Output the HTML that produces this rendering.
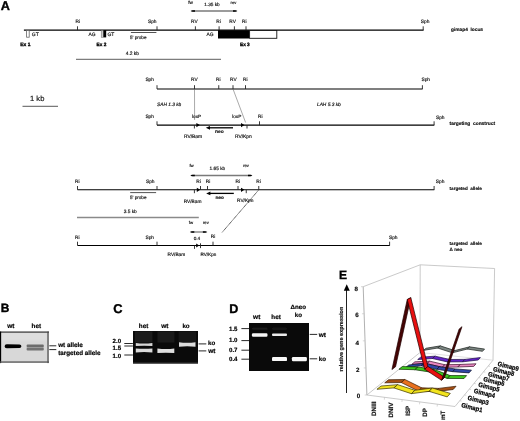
<!DOCTYPE html><html><head><meta charset="utf-8"><style>html,body{margin:0;padding:0;background:#fff;overflow:hidden;}svg{display:block;will-change:transform;text-rendering:geometricPrecision;}</style></head><body>
<svg width="520" height="421" viewBox="0 0 520 421" font-family='"Liberation Sans", sans-serif'>
<rect width="520" height="421" fill="#fff"/>
<g>
<text x="0.8" y="9.9" font-size="12.7" font-weight="bold" fill="#000" stroke="#000" stroke-width="0.35">A</text>
<line x1="23.9" y1="30.1" x2="423.6" y2="30.1" stroke="#000" stroke-width="1.1" />
<line x1="77.5" y1="26.3" x2="77.5" y2="30.1" stroke="#222" stroke-width="0.9" />
<line x1="157" y1="26.3" x2="157" y2="30.1" stroke="#222" stroke-width="0.9" />
<line x1="195.4" y1="26.3" x2="195.4" y2="30.1" stroke="#222" stroke-width="0.9" />
<line x1="219.1" y1="26.3" x2="219.1" y2="30.1" stroke="#222" stroke-width="0.9" />
<line x1="234.4" y1="26.3" x2="234.4" y2="30.1" stroke="#222" stroke-width="0.9" />
<line x1="246.0" y1="26.3" x2="246.0" y2="30.1" stroke="#222" stroke-width="0.9" />
<line x1="423.2" y1="26.3" x2="423.2" y2="30.1" stroke="#222" stroke-width="0.9" />
<text x="75.4" y="22.9" font-size="4.8" fill="#111" stroke="#111" stroke-width="0.16">Ri</text>
<text x="148.0" y="22.9" font-size="4.8" fill="#111" stroke="#111" stroke-width="0.16">Sph</text>
<text x="191.1" y="22.9" font-size="4.8" fill="#111" stroke="#111" stroke-width="0.16">RV</text>
<text x="216.3" y="22.9" font-size="4.8" fill="#111" stroke="#111" stroke-width="0.16">Ri</text>
<text x="229.3" y="22.9" font-size="4.8" fill="#111" stroke="#111" stroke-width="0.16">RV</text>
<text x="242.0" y="22.9" font-size="4.8" fill="#111" stroke="#111" stroke-width="0.16">Ri</text>
<text x="420.8" y="22.5" font-size="4.8" fill="#111" stroke="#111" stroke-width="0.16">Sph</text>
<rect x="26.6" y="30.6" width="2.6" height="6.6" fill="#fff" stroke="#666" stroke-width="0.8" />
<text x="31.8" y="35.9" font-size="5.0" fill="#111" stroke="#111" stroke-width="0.16">GT</text>
<text x="20.3" y="46.0" font-size="4.9" font-weight="bold" fill="#000" stroke="#000" stroke-width="0.3">Ex 1</text>
<text x="88.5" y="36.2" font-size="4.9" fill="#111" stroke="#111" stroke-width="0.16">AG</text>
<rect x="101.2" y="30.4" width="2.2" height="6.9" fill="#ccc" stroke="#666" stroke-width="0.5" />
<rect x="103.4" y="30.2" width="2.8" height="7.2" fill="#000" stroke="none" stroke-width="0" />
<text x="107.4" y="36.2" font-size="5.0" fill="#111" stroke="#111" stroke-width="0.16">GT</text>
<text x="96.6" y="46.0" font-size="4.7" font-weight="bold" fill="#000" stroke="#000" stroke-width="0.3">Ex 2</text>
<line x1="130.9" y1="32.5" x2="156.4" y2="32.5" stroke="#1a1a1a" stroke-width="0.75" />
<text x="130.0" y="39.1" font-size="4.6" fill="#111" stroke="#111" stroke-width="0.16">5' probe</text>
<text x="206.6" y="36.3" font-size="4.9" fill="#111" stroke="#111" stroke-width="0.16">AG</text>
<rect x="218" y="30.2" width="31.6" height="8.3" fill="#000" stroke="none" stroke-width="0" />
<rect x="249.6" y="30.5" width="27.2" height="7.8" fill="#fff" stroke="#111" stroke-width="0.9" />
<text x="240.0" y="46.0" font-size="4.7" font-weight="bold" fill="#000" stroke="#000" stroke-width="0.3">Ex 3</text>
<text x="188.3" y="3.9" font-size="4.6" fill="#111" stroke="#111" stroke-width="0.16">fw</text>
<text x="230.6" y="3.9" font-size="4.2" fill="#111" stroke="#111" stroke-width="0.16">rev</text>
<text x="204.3" y="6.2" font-size="4.7" fill="#111" stroke="#111" stroke-width="0.16">1.35 kb</text>
<line x1="192.6" y1="11.0" x2="235.4" y2="11.0" stroke="#7a7a7a" stroke-width="1.3" />
<path d="M190.6,11.0 L192.0,10.15 L195.0,10.15 L195.0,11.85 L192.0,11.85 Z" fill="#000" stroke="none" stroke-width="0" />
<path d="M237.4,11.0 L236.0,10.15 L233.0,10.15 L233.0,11.85 L236.0,11.85 Z" fill="#000" stroke="none" stroke-width="0" />
<text x="125.7" y="54.9" font-size="4.9" fill="#111" stroke="#111" stroke-width="0.16">4.2 kb</text>
<line x1="76" y1="59.3" x2="221" y2="59.3" stroke="#7d7d7d" stroke-width="1.3" />
<text x="451" y="30.7" font-size="4.8" font-weight="bold" fill="#111" stroke="#111" stroke-width="0.15">gimap4&#160;&#160;locus</text>
<text x="30.0" y="100.9" font-size="7.6" fill="#111" stroke="#111" stroke-width="0.16">1 kb</text>
<line x1="22.5" y1="106.4" x2="58" y2="106.4" stroke="#7a7a7a" stroke-width="1.3" />
<line x1="157" y1="89.0" x2="422.6" y2="89.0" stroke="#000" stroke-width="1.1" />
<line x1="157" y1="85.2" x2="157" y2="89.0" stroke="#222" stroke-width="0.9" />
<line x1="194.5" y1="85.2" x2="194.5" y2="89.0" stroke="#222" stroke-width="0.9" />
<line x1="218.75" y1="85.2" x2="218.75" y2="89.0" stroke="#222" stroke-width="0.9" />
<line x1="233" y1="85.2" x2="233" y2="89.0" stroke="#222" stroke-width="0.9" />
<line x1="245.5" y1="85.2" x2="245.5" y2="89.0" stroke="#222" stroke-width="0.9" />
<line x1="422.4" y1="85.2" x2="422.4" y2="89.0" stroke="#222" stroke-width="0.9" />
<text x="145.4" y="80.8" font-size="4.8" fill="#111" stroke="#111" stroke-width="0.16">Sph</text>
<text x="191.0" y="81.0" font-size="4.8" fill="#111" stroke="#111" stroke-width="0.16">RV</text>
<text x="216.0" y="81.0" font-size="4.8" fill="#111" stroke="#111" stroke-width="0.16">Ri</text>
<text x="230.0" y="81.0" font-size="4.8" fill="#111" stroke="#111" stroke-width="0.16">RV</text>
<text x="243.0" y="81.0" font-size="4.8" fill="#111" stroke="#111" stroke-width="0.16">Ri</text>
<text x="421.5" y="81.0" font-size="4.8" fill="#111" stroke="#111" stroke-width="0.16">Sph</text>
<text x="157.0" y="105.9" font-size="4.8" font-style="italic" fill="#111" stroke="#111" stroke-width="0.16">SAH 1.3 kb</text>
<text x="317.0" y="106.3" font-size="4.8" font-style="italic" fill="#111" stroke="#111" stroke-width="0.16">LAH 5.3 kb</text>
<line x1="194.5" y1="89" x2="194.6" y2="120" stroke="#555" stroke-width="0.5" />
<line x1="233" y1="89" x2="245.6" y2="122.5" stroke="#555" stroke-width="0.5" />
<line x1="157" y1="125.1" x2="434.3" y2="125.1" stroke="#000" stroke-width="1.1" />
<line x1="157" y1="121.3" x2="157" y2="125.1" stroke="#222" stroke-width="0.9" />
<line x1="434.1" y1="121.3" x2="434.1" y2="125.1" stroke="#222" stroke-width="0.9" />
<line x1="259.5" y1="121.3" x2="259.5" y2="125.1" stroke="#222" stroke-width="0.9" />
<line x1="194.4" y1="125.1" x2="194.4" y2="128.5" stroke="#222" stroke-width="0.9" />
<line x1="247" y1="125.1" x2="247" y2="128.5" stroke="#222" stroke-width="0.9" />
<path d="M196.4,123.0 L199.8,125.1 L196.4,127.19999999999999 Z" fill="#000" stroke="none" stroke-width="0" />
<path d="M241.0,123.0 L244.4,125.1 L241.0,127.19999999999999 Z" fill="#000" stroke="none" stroke-width="0" />
<text x="145.4" y="118.0" font-size="4.8" fill="#111" stroke="#111" stroke-width="0.16">Sph</text>
<text x="436.0" y="118.5" font-size="4.8" fill="#111" stroke="#111" stroke-width="0.16">Sph</text>
<text x="192.0" y="118.4" font-size="4.7" fill="#111" stroke="#111" stroke-width="0.16">loxP</text>
<text x="232.2" y="118.4" font-size="4.7" fill="#111" stroke="#111" stroke-width="0.16">loxP</text>
<text x="258.0" y="118.4" font-size="4.8" fill="#111" stroke="#111" stroke-width="0.16">Ri</text>
<line x1="208.8" y1="127.8" x2="233" y2="127.8" stroke="#000" stroke-width="1.3" />
<path d="M205.8,127.8 L210.0,125.89999999999999 L210.0,129.7 Z" fill="#000" stroke="none" stroke-width="0" />
<text x="215.0" y="133.3" font-size="4.9" font-weight="bold" fill="#111" stroke="#111" stroke-width="0.15">neo</text>
<text x="184.0" y="138.0" font-size="4.9" fill="#111" stroke="#111" stroke-width="0.16">RV/Bam</text>
<text x="235.0" y="138.0" font-size="4.9" fill="#111" stroke="#111" stroke-width="0.16">RV/Kpn</text>
<text x="449.6" y="124.6" font-size="4.85" font-weight="bold" fill="#111" stroke="#111" stroke-width="0.15">targeting&#160;&#160;construct</text>
<line x1="77.5" y1="189.8" x2="434.3" y2="189.8" stroke="#000" stroke-width="1.1" />
<line x1="77.5" y1="186.0" x2="77.5" y2="189.8" stroke="#222" stroke-width="0.9" />
<line x1="157" y1="186.0" x2="157" y2="189.8" stroke="#222" stroke-width="0.9" />
<line x1="200.5" y1="186.0" x2="200.5" y2="189.8" stroke="#222" stroke-width="0.9" />
<line x1="207.5" y1="186.0" x2="207.5" y2="189.8" stroke="#222" stroke-width="0.9" />
<line x1="238" y1="186.0" x2="238" y2="189.8" stroke="#222" stroke-width="0.9" />
<line x1="258.75" y1="186.0" x2="258.75" y2="189.8" stroke="#222" stroke-width="0.9" />
<line x1="434.1" y1="186.0" x2="434.1" y2="189.8" stroke="#222" stroke-width="0.9" />
<line x1="194.4" y1="189.8" x2="194.4" y2="193.20000000000002" stroke="#222" stroke-width="0.9" />
<line x1="246.25" y1="189.8" x2="246.25" y2="193.20000000000002" stroke="#222" stroke-width="0.9" />
<path d="M196.8,187.70000000000002 L200.2,189.8 L196.8,191.9 Z" fill="#000" stroke="none" stroke-width="0" />
<path d="M241.0,187.70000000000002 L244.4,189.8 L241.0,191.9 Z" fill="#000" stroke="none" stroke-width="0" />
<text x="75.0" y="182.8" font-size="4.8" fill="#111" stroke="#111" stroke-width="0.16">Ri</text>
<text x="146.0" y="182.8" font-size="4.8" fill="#111" stroke="#111" stroke-width="0.16">Sph</text>
<text x="196.2" y="182.5" font-size="4.8" fill="#111" stroke="#111" stroke-width="0.16">Ri</text>
<text x="205.7" y="182.5" font-size="4.8" fill="#111" stroke="#111" stroke-width="0.16">Ri</text>
<text x="235.5" y="182.5" font-size="4.8" fill="#111" stroke="#111" stroke-width="0.16">Ri</text>
<text x="256.2" y="182.5" font-size="4.8" fill="#111" stroke="#111" stroke-width="0.16">Ri</text>
<text x="435.8" y="183.4" font-size="4.8" fill="#111" stroke="#111" stroke-width="0.16">Sph</text>
<text x="449.6" y="189.7" font-size="4.6" font-weight="bold" fill="#111" stroke="#111" stroke-width="0.15">targeted&#160;&#160;allele</text>
<line x1="130.2" y1="192.6" x2="156.1" y2="192.6" stroke="#1a1a1a" stroke-width="0.75" />
<text x="130.0" y="198.9" font-size="4.6" fill="#111" stroke="#111" stroke-width="0.16">5' probe</text>
<text x="189.4" y="167.0" font-size="4.3" fill="#111" stroke="#111" stroke-width="0.16">fw</text>
<text x="243.2" y="167.0" font-size="4.1" fill="#111" stroke="#111" stroke-width="0.16">rev</text>
<text x="209.5" y="170.2" font-size="4.8" fill="#111" stroke="#111" stroke-width="0.16">1.65 kb</text>
<line x1="192.4" y1="175.5" x2="250.4" y2="175.5" stroke="#7a7a7a" stroke-width="1.3" />
<path d="M190.4,175.5 L191.8,174.65 L194.8,174.65 L194.8,176.35 L191.8,176.35 Z" fill="#000" stroke="none" stroke-width="0" />
<path d="M252.4,175.5 L251.0,174.65 L248.0,174.65 L248.0,176.35 L251.0,176.35 Z" fill="#000" stroke="none" stroke-width="0" />
<line x1="209.2" y1="193.4" x2="233.8" y2="193.4" stroke="#000" stroke-width="1.3" />
<path d="M206.2,193.4 L210.39999999999998,191.5 L210.39999999999998,195.3 Z" fill="#000" stroke="none" stroke-width="0" />
<text x="215.5" y="198.5" font-size="4.7" font-weight="bold" fill="#111" stroke="#111" stroke-width="0.15">neo</text>
<text x="183.7" y="202.7" font-size="4.8" fill="#111" stroke="#111" stroke-width="0.16">RV/Bam</text>
<text x="237.0" y="201.5" font-size="4.8" fill="#111" stroke="#111" stroke-width="0.16">RV/Kpn</text>
<line x1="77" y1="217.5" x2="198.8" y2="217.5" stroke="#8a8a8a" stroke-width="1.4" />
<text x="123.7" y="212.6" font-size="4.8" fill="#111" stroke="#111" stroke-width="0.16">3.5 kb</text>
<line x1="258.2" y1="190.5" x2="222.2" y2="232.3" stroke="#222" stroke-width="0.95" stroke-dasharray="1,0.6"/>
<line x1="77.5" y1="245.5" x2="389.8" y2="245.5" stroke="#000" stroke-width="1.1" />
<line x1="77.5" y1="241.7" x2="77.5" y2="245.5" stroke="#222" stroke-width="0.9" />
<line x1="157" y1="241.7" x2="157" y2="245.5" stroke="#222" stroke-width="0.9" />
<line x1="213" y1="241.7" x2="213" y2="245.5" stroke="#222" stroke-width="0.9" />
<line x1="389.6" y1="241.7" x2="389.6" y2="245.5" stroke="#222" stroke-width="0.9" />
<line x1="194.5" y1="245.5" x2="194.5" y2="248.9" stroke="#222" stroke-width="0.9" />
<line x1="200.5" y1="243.3" x2="200.5" y2="248.1" stroke="#222" stroke-width="0.9" />
<path d="M196.2,243.4 L199.2,245.5 L196.2,247.6 Z" fill="#000" stroke="none" stroke-width="0" />
<text x="75.0" y="238.5" font-size="4.8" fill="#111" stroke="#111" stroke-width="0.16">Ri</text>
<text x="145.5" y="238.6" font-size="4.8" fill="#111" stroke="#111" stroke-width="0.16">Sph</text>
<text x="210.7" y="238.2" font-size="4.8" fill="#111" stroke="#111" stroke-width="0.16">Ri</text>
<text x="389.0" y="238.9" font-size="4.8" fill="#111" stroke="#111" stroke-width="0.16">Sph</text>
<text x="188.7" y="223.9" font-size="4.3" fill="#111" stroke="#111" stroke-width="0.16">fw</text>
<text x="203.0" y="223.9" font-size="4.1" fill="#111" stroke="#111" stroke-width="0.16">rev</text>
<line x1="191.9" y1="232.0" x2="205.3" y2="232.0" stroke="#7a7a7a" stroke-width="1.3" />
<path d="M189.9,232.0 L191.3,231.15 L194.3,231.15 L194.3,232.85 L191.3,232.85 Z" fill="#000" stroke="none" stroke-width="0" />
<path d="M207.3,232.0 L205.9,231.15 L202.9,231.15 L202.9,232.85 L205.9,232.85 Z" fill="#000" stroke="none" stroke-width="0" />
<text x="193.7" y="239.6" font-size="4.7" fill="#111" stroke="#111" stroke-width="0.16">0.4</text>
<text x="167.5" y="256.4" font-size="4.8" fill="#111" stroke="#111" stroke-width="0.16">RV/Bam</text>
<text x="200.5" y="256.4" font-size="4.6" fill="#111" stroke="#111" stroke-width="0.16">RV/Kpn</text>
<text x="449.6" y="245.1" font-size="4.6" font-weight="bold" fill="#111" stroke="#111" stroke-width="0.15">targeted&#160;&#160;allele</text>
<text x="449.6" y="251.3" font-size="4.6" font-weight="bold" fill="#111" stroke="#111" stroke-width="0.15">&#916; neo</text>
<text x="0.8" y="312.3" font-size="11.9" font-weight="bold" fill="#000" stroke="#000" stroke-width="0.4">B</text>
<text x="7.3" y="327.9" font-size="6.51" font-weight="bold" fill="#000" stroke="#000" stroke-width="0.18">wt</text>
<text x="31.6" y="327.9" font-size="6.3" font-weight="bold" fill="#000" stroke="#000" stroke-width="0.18">het</text>
<defs><filter id="bl" x="-20%" y="-50%" width="140%" height="200%"><feGaussianBlur stdDeviation="0.55"/></filter><filter id="bl2" x="-20%" y="-50%" width="140%" height="200%"><feGaussianBlur stdDeviation="0.8"/></filter></defs>
<rect x="0" y="331.6" width="49" height="31" fill="#d8d8d8" stroke="none" stroke-width="0" />
<rect x="1" y="332.6" width="46.5" height="8" fill="#dedede" stroke="none" stroke-width="0" filter="url(#bl2)"/>
<rect x="0" y="331.5" width="49" height="1.2" fill="#3a3a3a" stroke="none" stroke-width="0" />
<rect x="0" y="331.6" width="1.15" height="31.5" fill="#000" stroke="none" stroke-width="0" />
<rect x="47.4" y="331.6" width="1.2" height="31.5" fill="#4a4a4a" stroke="none" stroke-width="0" />
<rect x="0" y="361.4" width="49" height="1.3" fill="#555" stroke="none" stroke-width="0" />
<g filter="url(#bl)">
<path d="M4.6,346.3 Q4.6,344.2 7,344.3 L19.5,344.5 Q21.4,344.6 21.4,346.3 Q21.4,348.0 19.5,348.0 L7,348.2 Q4.6,348.3 4.6,346.3 Z" fill="#050505" stroke="none" stroke-width="0" />
<rect x="26.6" y="344.5" width="17.2" height="2.7" fill="#6c6c6c" stroke="none" stroke-width="0" rx="1"/>
<rect x="26.6" y="347.2" width="17.2" height="0.6" fill="#9a9a9a" stroke="none" stroke-width="0" />
<rect x="26.6" y="347.8" width="17.2" height="2.7" fill="#727272" stroke="none" stroke-width="0" rx="1"/>
</g>
<line x1="49.3" y1="345.8" x2="56.3" y2="345.8" stroke="#111" stroke-width="0.9" />
<line x1="49.3" y1="349.6" x2="56.3" y2="349.6" stroke="#111" stroke-width="0.9" />
<text x="58.2" y="346.6" font-size="6.35" font-weight="bold" fill="#000" stroke="#000" stroke-width="0.18">wt allele</text>
<text x="58.2" y="355.1" font-size="6.3" font-weight="bold" fill="#000" stroke="#000" stroke-width="0.18">targeted allele</text>
<text x="113.3" y="312.6" font-size="12.8" font-weight="bold" fill="#000" stroke="#000" stroke-width="0.35">C</text>
<text x="138.8" y="327.9" font-size="6.3" font-weight="bold" fill="#000" stroke="#000" stroke-width="0.18">het</text>
<text x="161.3" y="327.9" font-size="6.51" font-weight="bold" fill="#000" stroke="#000" stroke-width="0.18">wt</text>
<text x="182.4" y="327.9" font-size="6.2" font-weight="bold" fill="#000" stroke="#000" stroke-width="0.18">ko</text>
<rect x="133" y="331" width="65" height="32.5" fill="#0a0a0a" stroke="none" stroke-width="0" />
<rect x="134.9" y="331.5" width="17.5" height="11" fill="#1c1c1c" stroke="none" stroke-width="0" />
<rect x="157.4" y="331.5" width="17" height="11" fill="#1a1a1a" stroke="none" stroke-width="0" />
<rect x="178.6" y="331.5" width="17.5" height="11" fill="#161616" stroke="none" stroke-width="0" />
<rect x="133" y="362.4" width="65" height="1.1" fill="#333" stroke="none" stroke-width="0" />
<g filter="url(#bl)">
<path d="M135.8,342.9 Q144,343.9 152.4,342.9 L152.4,346.1 Q144,345.5 135.8,346.1 Z" fill="#d6d6d6" stroke="none" stroke-width="0" />
<path d="M135.8,348.4 Q144,349.3 152.4,348.4 L152.4,352.4 Q144,351.7 135.8,352.4 Z" fill="#dadada" stroke="none" stroke-width="0" />
<path d="M157.4,348.4 Q166,349.5 174.3,348.4 L174.3,353.0 Q166,352.3 157.4,353.0 Z" fill="#dedede" stroke="none" stroke-width="0" />
<path d="M179.0,342.2 Q187,343.3 195.5,342.2 L195.5,346.7 Q187,346.0 179.0,346.7 Z" fill="#dcdcdc" stroke="none" stroke-width="0" />
</g>
<text x="112.6" y="343.0" font-size="6.09" font-weight="bold" fill="#000" stroke="#000" stroke-width="0.18">2.0</text>
<text x="112.6" y="350.0" font-size="6.09" font-weight="bold" fill="#000" stroke="#000" stroke-width="0.18">1.5</text>
<text x="112.6" y="357.8" font-size="6.09" font-weight="bold" fill="#000" stroke="#000" stroke-width="0.18">1.0</text>
<line x1="124.3" y1="343.5" x2="132.9" y2="343.5" stroke="#111" stroke-width="0.9" />
<line x1="124.3" y1="346.0" x2="132.9" y2="346.0" stroke="#111" stroke-width="0.9" />
<line x1="124.3" y1="355.0" x2="132.9" y2="355.0" stroke="#111" stroke-width="0.9" />
<line x1="198.6" y1="343.9" x2="206.3" y2="343.9" stroke="#111" stroke-width="0.9" />
<line x1="198.6" y1="350.9" x2="206.3" y2="350.9" stroke="#111" stroke-width="0.9" />
<text x="208.0" y="345.4" font-size="6.2" font-weight="bold" fill="#000" stroke="#000" stroke-width="0.18">ko</text>
<text x="208.3" y="353.4" font-size="6.51" font-weight="bold" fill="#000" stroke="#000" stroke-width="0.18">wt</text>
<text x="229.3" y="312.7" font-size="12.6" font-weight="bold" fill="#000" stroke="#000" stroke-width="0.35">D</text>
<text x="253.1" y="318.8" font-size="6.51" font-weight="bold" fill="#000" stroke="#000" stroke-width="0.18">wt</text>
<text x="271.3" y="318.8" font-size="6.3" font-weight="bold" fill="#000" stroke="#000" stroke-width="0.18">het</text>
<text x="290.5" y="309.2" font-size="6.2" font-weight="bold" fill="#000" stroke="#000" stroke-width="0.18">&#916;neo</text>
<text x="294.8" y="316.7" font-size="6.2" font-weight="bold" fill="#000" stroke="#000" stroke-width="0.18">ko</text>
<rect x="249" y="323" width="60" height="48" fill="#0a0a0a" stroke="none" stroke-width="0" />
<g filter="url(#bl)">
<rect x="252" y="327.8" width="15.5" height="2.0" fill="#1c1c1c" stroke="none" stroke-width="0" rx="1"/>
<rect x="272" y="327.8" width="15" height="2.0" fill="#181818" stroke="none" stroke-width="0" rx="1"/>
<rect x="251.9" y="333.3" width="15.6" height="3.4" fill="#f6f6f6" stroke="none" stroke-width="0" rx="1.2"/>
<rect x="272" y="333.5" width="15" height="2.4" fill="#eaeaea" stroke="none" stroke-width="0" rx="1"/>
<rect x="272" y="357.0" width="15" height="4.1" fill="#f8f8f8" stroke="none" stroke-width="0" rx="1.2"/>
<rect x="291.9" y="357.0" width="15" height="4.3" fill="#f8f8f8" stroke="none" stroke-width="0" rx="1.2"/>
</g>
<text x="229.0" y="331.0" font-size="6.09" font-weight="bold" fill="#000" stroke="#000" stroke-width="0.18">1.5</text>
<text x="229.0" y="342.3" font-size="6.09" font-weight="bold" fill="#000" stroke="#000" stroke-width="0.18">1.0</text>
<text x="229.0" y="352.0" font-size="6.09" font-weight="bold" fill="#000" stroke="#000" stroke-width="0.18">0.7</text>
<text x="229.0" y="360.9" font-size="6.09" font-weight="bold" fill="#000" stroke="#000" stroke-width="0.18">0.4</text>
<line x1="241.4" y1="328.6" x2="249.0" y2="328.6" stroke="#111" stroke-width="0.9" />
<line x1="241.4" y1="340.6" x2="249.0" y2="340.6" stroke="#111" stroke-width="0.9" />
<line x1="241.4" y1="350.2" x2="249.0" y2="350.2" stroke="#111" stroke-width="0.9" />
<line x1="241.4" y1="359.2" x2="249.0" y2="359.2" stroke="#111" stroke-width="0.9" />
<line x1="309.7" y1="334.4" x2="317.2" y2="334.4" stroke="#111" stroke-width="0.9" />
<line x1="309.7" y1="358.8" x2="317.2" y2="358.8" stroke="#111" stroke-width="0.9" />
<text x="318.7" y="337.0" font-size="6.51" font-weight="bold" fill="#000" stroke="#000" stroke-width="0.18">wt</text>
<text x="318.7" y="361.3" font-size="6.2" font-weight="bold" fill="#000" stroke="#000" stroke-width="0.18">ko</text>
<line x1="363.2" y1="286.7" x2="366.9" y2="395.0" stroke="#a8a8a8" stroke-width="0.9" />
<line x1="363.2" y1="286.7" x2="420.2" y2="264.8" stroke="#bdbdbd" stroke-width="0.8" />
<line x1="420.2" y1="264.8" x2="420.0" y2="352.5" stroke="#bdbdbd" stroke-width="0.8" />
<line x1="420.2" y1="264.8" x2="494.6" y2="268.5" stroke="#bdbdbd" stroke-width="0.8" />
<line x1="494.6" y1="268.5" x2="493.0" y2="360.2" stroke="#bdbdbd" stroke-width="0.8" />
<line x1="366.9" y1="395.0" x2="455.0" y2="406.5" stroke="#bdbdbd" stroke-width="0.8" />
<line x1="366.9" y1="395.0" x2="420.0" y2="352.5" stroke="#bdbdbd" stroke-width="0.8" />
<line x1="420.0" y1="352.5" x2="493.0" y2="360.2" stroke="#d4d4d4" stroke-width="0.7" />
<line x1="455.0" y1="406.5" x2="493.0" y2="360.2" stroke="#bdbdbd" stroke-width="0.8" />
<line x1="364.7" y1="395.0" x2="366.9" y2="395.0" stroke="#bdbdbd" stroke-width="0.6" />
<line x1="363.775" y1="367.925" x2="365.97499999999997" y2="367.925" stroke="#bdbdbd" stroke-width="0.6" />
<line x1="362.84999999999997" y1="340.85" x2="365.04999999999995" y2="340.85" stroke="#bdbdbd" stroke-width="0.6" />
<line x1="361.925" y1="313.775" x2="364.125" y2="313.775" stroke="#bdbdbd" stroke-width="0.6" />
<line x1="361.0" y1="286.7" x2="363.2" y2="286.7" stroke="#bdbdbd" stroke-width="0.6" />
<line x1="384.52" y1="397.3" x2="384.32" y2="399.7" stroke="#bdbdbd" stroke-width="0.6" />
<line x1="402.14" y1="399.6" x2="401.94" y2="402.0" stroke="#bdbdbd" stroke-width="0.6" />
<line x1="419.76" y1="401.9" x2="419.56" y2="404.29999999999995" stroke="#bdbdbd" stroke-width="0.6" />
<line x1="437.38" y1="404.2" x2="437.18" y2="406.59999999999997" stroke="#bdbdbd" stroke-width="0.6" />
<line x1="459.75" y1="400.7125" x2="461.55" y2="401.11249999999995" stroke="#bdbdbd" stroke-width="0.6" />
<line x1="464.5" y1="394.925" x2="466.3" y2="395.325" stroke="#bdbdbd" stroke-width="0.6" />
<line x1="469.25" y1="389.1375" x2="471.05" y2="389.53749999999997" stroke="#bdbdbd" stroke-width="0.6" />
<line x1="474.0" y1="383.35" x2="475.8" y2="383.75" stroke="#bdbdbd" stroke-width="0.6" />
<line x1="478.75" y1="377.5625" x2="480.55" y2="377.9625" stroke="#bdbdbd" stroke-width="0.6" />
<line x1="483.5" y1="371.775" x2="485.3" y2="372.17499999999995" stroke="#bdbdbd" stroke-width="0.6" />
<line x1="488.25" y1="365.9875" x2="490.05" y2="366.3875" stroke="#bdbdbd" stroke-width="0.6" />
<path d="M423.28,350.43 L437.68,348.04 L440.28,345.87 L426.04,348.25 Z" fill="#7c8682" stroke="#1a201c" stroke-width="0.7" stroke-linejoin="round"/>
<path d="M437.68,348.04 L452.34,352.82 L454.77,350.57 L440.28,345.87 Z" fill="#7c8682" stroke="#1a201c" stroke-width="0.7" stroke-linejoin="round"/>
<path d="M452.34,352.82 L467.30,349.06 L469.56,346.84 L454.77,350.57 Z" fill="#7c8682" stroke="#1a201c" stroke-width="0.7" stroke-linejoin="round"/>
<path d="M467.30,349.06 L482.49,351.34 L484.57,349.07 L469.56,346.84 Z" fill="#7c8682" stroke="#1a201c" stroke-width="0.7" stroke-linejoin="round"/>
<path d="M417.72,359.53 L432.41,358.52 L435.14,356.16 L420.61,357.18 Z" fill="#6424c8" stroke="#1a0840" stroke-width="0.7" stroke-linejoin="round"/>
<path d="M432.41,358.52 L447.38,361.91 L449.94,359.49 L435.14,356.16 Z" fill="#6424c8" stroke="#1a0840" stroke-width="0.7" stroke-linejoin="round"/>
<path d="M447.38,361.91 L462.63,361.82 L465.00,359.38 L449.94,359.49 Z" fill="#6424c8" stroke="#1a0840" stroke-width="0.7" stroke-linejoin="round"/>
<path d="M462.63,361.82 L478.20,360.00 L480.39,357.56 L465.00,359.38 Z" fill="#6424c8" stroke="#1a0840" stroke-width="0.7" stroke-linejoin="round"/>
<path d="M411.83,364.30 L426.86,363.66 L429.74,361.17 L414.88,361.83 Z" fill="#e888c0" stroke="#3a0a28" stroke-width="0.7" stroke-linejoin="round"/>
<path d="M426.86,363.66 L442.18,367.30 L444.88,364.74 L429.74,361.17 Z" fill="#e888c0" stroke="#3a0a28" stroke-width="0.7" stroke-linejoin="round"/>
<path d="M442.18,367.30 L457.79,367.02 L460.30,364.44 L444.88,364.74 Z" fill="#e888c0" stroke="#3a0a28" stroke-width="0.7" stroke-linejoin="round"/>
<path d="M457.79,367.02 L473.72,366.39 L476.03,363.79 L460.30,364.44 Z" fill="#e888c0" stroke="#3a0a28" stroke-width="0.7" stroke-linejoin="round"/>
<path d="M405.60,367.58 L420.98,365.77 L424.02,363.18 L408.82,364.99 Z" fill="#3048a8" stroke="#080c28" stroke-width="0.7" stroke-linejoin="round"/>
<path d="M420.98,365.77 L436.70,369.30 L439.55,366.63 L424.02,363.18 Z" fill="#3048a8" stroke="#080c28" stroke-width="0.7" stroke-linejoin="round"/>
<path d="M436.70,369.30 L452.69,371.68 L455.34,368.96 L439.55,366.63 Z" fill="#3048a8" stroke="#080c28" stroke-width="0.7" stroke-linejoin="round"/>
<path d="M452.69,371.68 L469.00,372.89 L471.44,370.13 L455.34,368.96 Z" fill="#3048a8" stroke="#080c28" stroke-width="0.7" stroke-linejoin="round"/>
<path d="M398.98,369.25 L414.77,369.71 L417.99,366.99 L402.39,366.56 Z" fill="#3ec81e" stroke="#0a2a00" stroke-width="0.7" stroke-linejoin="round"/>
<path d="M414.77,369.71 L430.89,372.15 L433.90,369.37 L417.99,366.99 Z" fill="#3ec81e" stroke="#0a2a00" stroke-width="0.7" stroke-linejoin="round"/>
<path d="M430.89,372.15 L447.29,378.45 L450.09,375.56 L433.90,369.37 Z" fill="#3ec81e" stroke="#0a2a00" stroke-width="0.7" stroke-linejoin="round"/>
<path d="M447.29,378.45 L464.02,378.52 L466.60,375.60 L450.09,375.56 Z" fill="#3ec81e" stroke="#0a2a00" stroke-width="0.7" stroke-linejoin="round"/>
<path d="M391.94,369.53 L407.28,299.50 L410.80,297.68 L395.55,366.76 Z" fill="#450404" stroke="#200000" stroke-width="0.7" stroke-linejoin="round"/>
<path d="M407.28,299.50 L424.69,369.24 L427.89,366.41 L410.80,297.68 Z" fill="#e81010" stroke="#200000" stroke-width="0.7" stroke-linejoin="round"/>
<path d="M424.69,369.24 L441.58,380.30 L444.55,377.29 L427.89,366.41 Z" fill="#e81010" stroke="#200000" stroke-width="0.7" stroke-linejoin="round"/>
<path d="M441.58,380.30 L459.18,328.99 L461.98,326.68 L444.55,377.29 Z" fill="#450404" stroke="#200000" stroke-width="0.7" stroke-linejoin="round"/>
<path d="M384.73,382.80 L401.28,382.54 L404.89,379.47 L388.54,379.76 Z" fill="#a75015" stroke="#3a1800" stroke-width="0.7" stroke-linejoin="round"/>
<path d="M401.28,382.54 L418.28,391.04 L421.65,387.82 L404.89,379.47 Z" fill="#e8701e" stroke="#3a1800" stroke-width="0.7" stroke-linejoin="round"/>
<path d="M418.28,391.04 L435.52,391.65 L438.66,388.38 L421.65,387.82 Z" fill="#a75015" stroke="#3a1800" stroke-width="0.7" stroke-linejoin="round"/>
<path d="M435.52,391.65 L453.15,389.51 L456.06,386.24 L438.66,388.38 Z" fill="#a75015" stroke="#3a1800" stroke-width="0.7" stroke-linejoin="round"/>
<path d="M376.94,389.28 L393.89,387.90 L397.72,384.65 L380.99,386.04 Z" fill="#f2e41e" stroke="#3a3000" stroke-width="0.7" stroke-linejoin="round"/>
<path d="M393.89,387.90 L411.33,393.66 L414.92,390.30 L397.72,384.65 Z" fill="#f2e41e" stroke="#3a3000" stroke-width="0.7" stroke-linejoin="round"/>
<path d="M411.33,393.66 L429.05,391.37 L432.40,388.00 L414.92,390.30 Z" fill="#f2e41e" stroke="#3a3000" stroke-width="0.7" stroke-linejoin="round"/>
<path d="M429.05,391.37 L447.19,396.89 L450.29,393.40 L432.40,388.00 Z" fill="#f2e41e" stroke="#3a3000" stroke-width="0.7" stroke-linejoin="round"/>
<text x="339.0" y="278.7" font-size="12.1" font-weight="bold" fill="#000" stroke="#000" stroke-width="0.35">E</text>
<line x1="346.5" y1="289.5" x2="346.5" y2="393.0" stroke="#222" stroke-width="1.0" />
<path d="M346.7,284.3 L343.8,290.8 L349.8,290.8 Z" fill="#000" stroke="none" stroke-width="0" />
<text transform="translate(342.7,339.0) rotate(-90)" text-anchor="middle" font-size="5.55" font-weight="bold" fill="#111" stroke="#111" stroke-width="0.15">relative gene expression</text>
<text x="357.9" y="290.59999999999997" font-size="6.2" font-weight="bold" text-anchor="end" fill="#111" stroke="#000" stroke-width="0.18">8</text>
<text x="358.6" y="317.3" font-size="6.2" font-weight="bold" text-anchor="end" fill="#111" stroke="#000" stroke-width="0.18">6</text>
<text x="359.0" y="344.5" font-size="6.2" font-weight="bold" text-anchor="end" fill="#111" stroke="#000" stroke-width="0.18">4</text>
<text x="359.5" y="371.5" font-size="6.2" font-weight="bold" text-anchor="end" fill="#111" stroke="#000" stroke-width="0.18">2</text>
<text x="360.1" y="397.7" font-size="6.2" font-weight="bold" text-anchor="end" fill="#111" stroke="#000" stroke-width="0.18">0</text>
<text transform="translate(376.2,401.6) rotate(-90)" text-anchor="end" font-size="6.3" font-weight="bold" fill="#111" stroke="#111" stroke-width="0.18">DNIII</text>
<text transform="translate(392.6,402.5) rotate(-90)" text-anchor="end" font-size="6.3" font-weight="bold" fill="#111" stroke="#111" stroke-width="0.18">DNIV</text>
<text transform="translate(409.7,405.7) rotate(-90)" text-anchor="end" font-size="6.3" font-weight="bold" fill="#111" stroke="#111" stroke-width="0.18">ISP</text>
<text transform="translate(426.9,408.1) rotate(-90)" text-anchor="end" font-size="6.3" font-weight="bold" fill="#111" stroke="#111" stroke-width="0.18">DP</text>
<text transform="translate(444.8,410.6) rotate(-90)" text-anchor="end" font-size="6.3" font-weight="bold" fill="#111" stroke="#111" stroke-width="0.18">mT</text>
<text transform="translate(497.3,365.8) rotate(14) scale(0.95,1.05)" font-size="6.2" font-weight="bold" fill="#000" stroke="#000" stroke-width="0.22">Gimap9</text>
<text transform="translate(492.7,370.9) rotate(14) scale(0.95,1.05)" font-size="6.2" font-weight="bold" fill="#000" stroke="#000" stroke-width="0.22">Gimap8</text>
<text transform="translate(487.7,375.9) rotate(14) scale(0.95,1.05)" font-size="6.2" font-weight="bold" fill="#000" stroke="#000" stroke-width="0.22">Gimap7</text>
<text transform="translate(483.1,380.9) rotate(14) scale(0.95,1.05)" font-size="6.2" font-weight="bold" fill="#000" stroke="#000" stroke-width="0.22">Gimap6</text>
<text transform="translate(478.1,386.6) rotate(14) scale(0.95,1.05)" font-size="6.2" font-weight="bold" fill="#000" stroke="#000" stroke-width="0.22">Gimap5</text>
<text transform="translate(473.6,392.8) rotate(14) scale(0.95,1.05)" font-size="6.2" font-weight="bold" fill="#000" stroke="#000" stroke-width="0.22">Gimap4</text>
<text transform="translate(467.3,399.7) rotate(14) scale(0.95,1.05)" font-size="6.2" font-weight="bold" fill="#000" stroke="#000" stroke-width="0.22">Gimap3</text>
<text transform="translate(460.9,407.0) rotate(14) scale(0.95,1.05)" font-size="6.2" font-weight="bold" fill="#000" stroke="#000" stroke-width="0.22">Gimap1</text>
</g></svg></body></html>
